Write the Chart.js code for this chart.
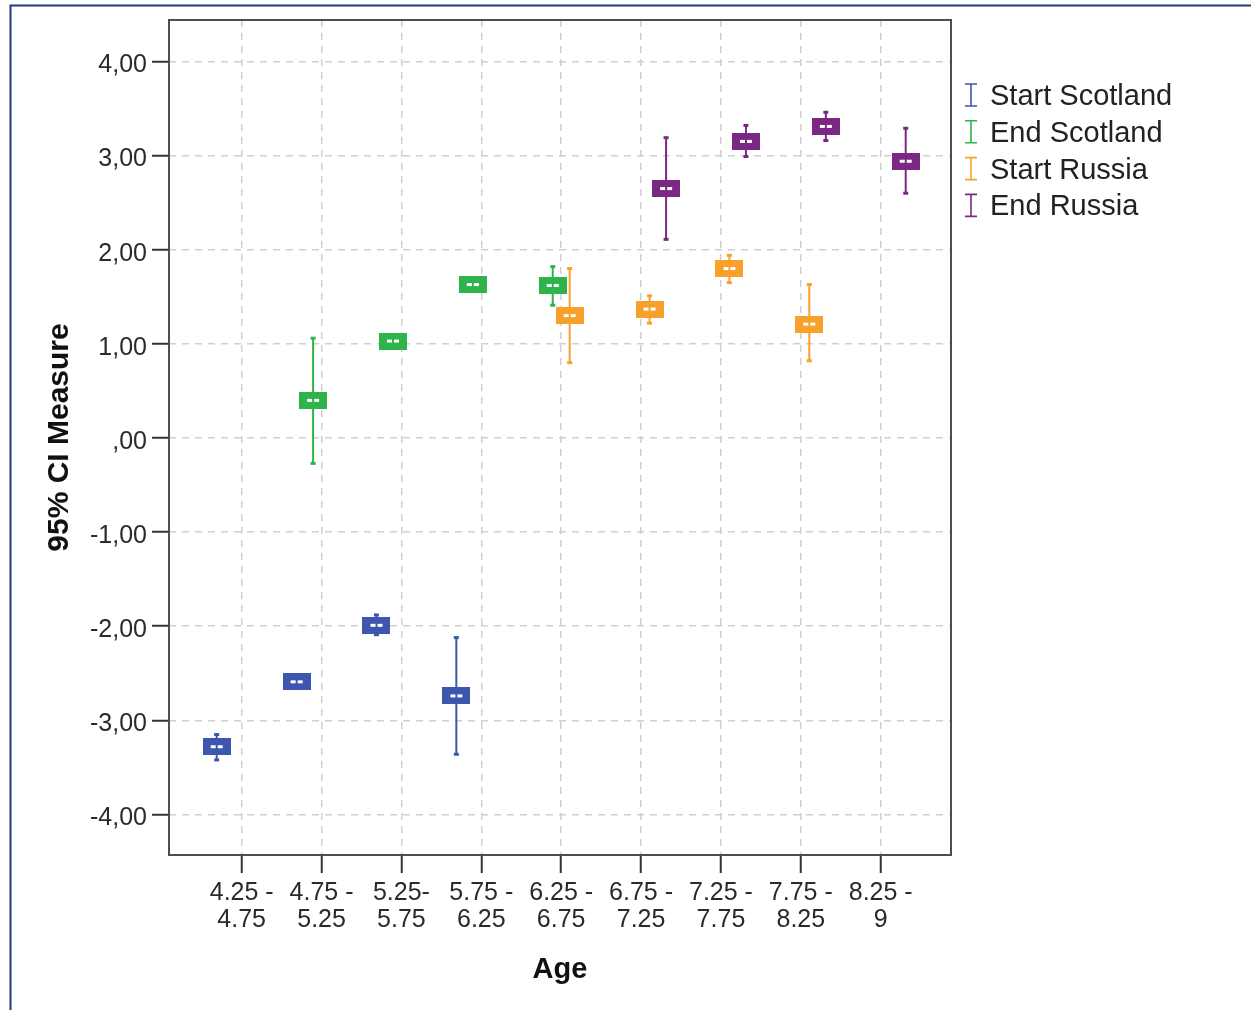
<!DOCTYPE html>
<html>
<head>
<meta charset="utf-8">
<title>95% CI Measure by Age</title>
<script src="https://cdn.jsdelivr.net/npm/chart.js@4/dist/chart.umd.min.js"></script>
<style>
  html, body { margin: 0; padding: 0; background: #ffffff; }
  #wrap { width: 1251px; height: 1010px; }
</style>
</head>
<body>
<div id="wrap"><canvas id="chart" width="1251" height="1010"></canvas></div>
<script>
// Age groups (x categories)
const ageGroups = [
  ["4.25 -", "4.75"], ["4.75 -", "5.25"], ["5.25-", "5.75"], ["5.75 -", "6.25"],
  ["6.25 -", "6.75"], ["6.75 -", "7.25"], ["7.25 -", "7.75"], ["7.75 -", "8.25"],
  ["8.25 -", "9"]
];

// Y axis ticks
const yTickValues = [-4, -3, -2, -1, 0, 1, 2, 3, 4];
const yTickLabels = ["-4,00", "-3,00", "-2,00", "-1,00", ",00", "1,00", "2,00", "3,00", "4,00"];

// Series names
const seriesNames = ["Start Scotland", "End Scotland", "Start Russia", "End Russia"];

// Means and 95% CI bounds per age group (null = no data)
const startScotlandMean = [-3.28, -2.59, -1.99, -2.74, null, null, null, null, null];
const startScotlandLow  = [-3.42, -2.64, -2.09, -3.36, null, null, null, null, null];
const startScotlandHigh = [-3.15, -2.54, -1.88, -2.12, null, null, null, null, null];

const endScotlandMean = [null, 0.40, 1.03, 1.63, 1.62, null, null, null, null];
const endScotlandLow  = [null, -0.27, 0.98, 1.58, 1.41, null, null, null, null];
const endScotlandHigh = [null, 1.06, 1.08, 1.68, 1.82, null, null, null, null];

const startRussiaMean = [null, null, null, null, 1.30, 1.37, 1.80, 1.21, null];
const startRussiaLow  = [null, null, null, null, 0.80, 1.22, 1.65, 0.82, null];
const startRussiaHigh = [null, null, null, null, 1.80, 1.51, 1.94, 1.63, null];

const endRussiaMean = [null, null, null, null, null, 2.65, 3.15, 3.31, 2.94];
const endRussiaLow  = [null, null, null, null, null, 2.11, 2.99, 3.16, 2.60];
const endRussiaHigh = [null, null, null, null, null, 3.19, 3.32, 3.46, 3.29];

// ---- drawing setup ----
const seriesColors = ["#3c57ad", "#2fb34b", "#f7a12a", "#7a2884"];
const clusterOffsets = [-0.313, -0.106, 0.106, 0.313];
const means = [startScotlandMean, endScotlandMean, startRussiaMean, endRussiaMean];
const lows  = [startScotlandLow, endScotlandLow, startRussiaLow, endRussiaLow];
const highs = [startScotlandHigh, endScotlandHigh, startRussiaHigh, endRussiaHigh];

const FONT = "'Liberation Sans', Arial, Helvetica, sans-serif";

// Mean marker: filled rectangle with a small white dashed mark in the middle
function makeMarker(color) {
  const c = document.createElement('canvas');
  c.width = 28; c.height = 17;
  const g = c.getContext('2d');
  g.fillStyle = color;
  g.fillRect(0, 0, 28, 17);
  g.fillStyle = '#ffffff';
  g.fillRect(8, 7, 5, 3);
  g.fillRect(15, 7, 5, 3);
  return c;
}

const datasets = seriesNames.map((name, s) => ({
  label: name,
  data: means[s].map((v, i) => ({ x: i + 1 + clusterOffsets[s], y: v })),
  showLine: false,
  pointStyle: makeMarker(seriesColors[s]),
  pointRadius: 8,
  pointHoverRadius: 8,
  backgroundColor: seriesColors[s],
  borderColor: seriesColors[s]
}));

// Page background and outer frame
const framePlugin = {
  id: 'frame',
  beforeDraw(chart) {
    const ctx = chart.ctx;
    ctx.save();
    ctx.fillStyle = '#ffffff';
    ctx.fillRect(0, 0, chart.width, chart.height);
    ctx.strokeStyle = '#22397a';
    ctx.lineWidth = 2;
    ctx.beginPath();
    ctx.moveTo(10.5, chart.height);
    ctx.lineTo(10.5, 5.5);
    ctx.lineTo(chart.width, 5.5);
    ctx.stroke();
    ctx.restore();
  }
};

// Plot box border and confidence-interval whiskers
const whiskerPlugin = {
  id: 'whiskers',
  beforeDatasetsDraw(chart) {
    const ctx = chart.ctx;
    const a = chart.chartArea;
    ctx.save();
    ctx.strokeStyle = '#4d4d4d';
    ctx.lineWidth = 2;
    ctx.strokeRect(a.left, a.top, a.right - a.left, a.bottom - a.top);

    const yScale = chart.scales.y;
    chart.data.datasets.forEach((ds, s) => {
      const meta = chart.getDatasetMeta(s);
      ctx.strokeStyle = seriesColors[s];
      ctx.fillStyle = seriesColors[s];
      ctx.lineWidth = 2;
      means[s].forEach((m, i) => {
        if (m === null) return;
        const x = meta.data[i].x;
        const yLo = yScale.getPixelForValue(lows[s][i]);
        const yHi = yScale.getPixelForValue(highs[s][i]);
        ctx.beginPath();
        ctx.moveTo(x, yLo);
        ctx.lineTo(x, yHi);
        ctx.stroke();
        ctx.fillRect(x - 2.5, yLo - 1.5, 5, 3);
        ctx.fillRect(x - 2.5, yHi - 1.5, 5, 3);
      });
    });
    ctx.restore();
  }
};

// Legend with error-bar glyphs
const legendPlugin = {
  id: 'ciLegend',
  afterDraw(chart) {
    const ctx = chart.ctx;
    ctx.save();
    ctx.font = '29px ' + FONT;
    ctx.textBaseline = 'middle';
    ctx.textAlign = 'left';
    seriesNames.forEach((name, s) => {
      const cy = 95 + s * 36.8;
      const x = 971;
      ctx.strokeStyle = seriesColors[s];
      ctx.lineWidth = 1.6;
      ctx.beginPath();
      ctx.moveTo(x, cy - 11); ctx.lineTo(x, cy + 11);
      ctx.moveTo(x - 6, cy - 11); ctx.lineTo(x + 6, cy - 11);
      ctx.moveTo(x - 6, cy + 11); ctx.lineTo(x + 6, cy + 11);
      ctx.stroke();
      ctx.fillStyle = '#222222';
      ctx.fillText(name, 990, cy + 2);
    });
    ctx.restore();
  }
};

Chart.defaults.font.family = FONT;
Chart.defaults.color = '#2a2a2a';

new Chart(document.getElementById('chart'), {
  type: 'scatter',
  data: { datasets },
  plugins: [framePlugin, whiskerPlugin, legendPlugin],
  options: {
    responsive: false,
    animation: false,
    events: [],
    layout: { padding: { left: 0, right: 300, top: 20, bottom: 0 } },
    plugins: { legend: { display: false }, tooltip: { enabled: false } },
    scales: {
      x: {
        type: 'linear',
        min: 0.09,
        max: 9.88,
        afterBuildTicks(scale) {
          scale.ticks = ageGroups.map((_, i) => ({ value: i + 1 }));
        },
        afterFit(scale) { scale.height = 155; },
        ticks: {
          autoSkip: false,
          maxRotation: 0,
          padding: 7,
          color: '#2a2a2a',
          font: { size: 25, lineHeight: 1.06 },
          callback: (v) => ageGroups[Math.round(v) - 1] || ''
        },
        grid: {
          color: '#cfcfcf',
          lineWidth: 1.5,
          drawTicks: true,
          tickLength: 18,
          tickWidth: 2,
          tickColor: '#333333',
          tickBorderDash: []
        },
        border: { display: false, dash: [7, 6] },
        title: {
          display: true,
          text: 'Age',
          color: '#111111',
          font: { size: 29, weight: 'bold' },
          padding: { top: 0, bottom: 23 }
        }
      },
      y: {
        type: 'linear',
        min: -4.43,
        max: 4.44,
        afterBuildTicks(scale) {
          scale.ticks = yTickValues.map(v => ({ value: v }));
        },
        afterFit(scale) { scale.width = 169; },
        ticks: {
          padding: 5,
          labelOffset: 4,
          color: '#2a2a2a',
          font: { size: 25 },
          callback: (v) => {
            const k = yTickValues.indexOf(v);
            return k >= 0 ? yTickLabels[k] : '';
          }
        },
        grid: {
          color: '#cfcfcf',
          lineWidth: 1.5,
          drawTicks: true,
          tickLength: 17,
          tickWidth: 2,
          tickColor: '#333333',
          tickBorderDash: []
        },
        border: { display: false, dash: [7, 6] },
        title: {
          display: true,
          text: '95% CI Measure',
          color: '#111111',
          font: { size: 30, weight: 'bold' },
          padding: { top: 42, bottom: 0 }
        }
      }
    }
  }
});
</script>
</body>
</html>
